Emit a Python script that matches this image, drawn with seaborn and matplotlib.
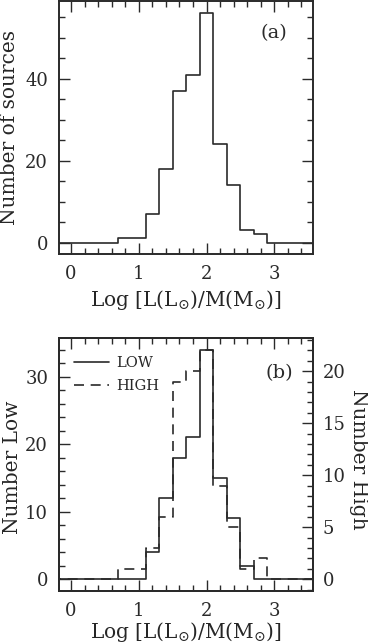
import matplotlib
matplotlib.use("Agg")
import matplotlib.pyplot as plt
import pandas as pd
import seaborn as sns
from matplotlib.ticker import MultipleLocator

# bin centres of Log [L/M], bins are 0.2 wide
bin_centers = [-0.2, 0.0, 0.2, 0.4, 0.6, 0.8, 1.0, 1.2, 1.4, 1.6,
               1.8, 2.0, 2.2, 2.4, 2.6, 2.8, 3.0, 3.2, 3.4, 3.6]
all_counts = [0, 0, 0, 0, 0, 1, 1, 7, 18, 37, 41, 56, 24, 14, 3, 2, 0, 0, 0, 0]
low_counts = [0, 0, 0, 0, 0, 0, 0, 4, 12, 18, 21, 34, 15, 9, 2, 0, 0, 0, 0, 0]
high_counts = [0, 0, 0, 0, 0, 1, 1, 3, 6, 19, 20, 22, 9, 5, 1, 2, 0, 0, 0, 0]
x_ticks = [0, 1, 2, 3]

INK = "#2a2a2a"
XLABEL = r"Log [L(L$_{\odot}$)/M(M$_{\odot}$)]"
LABEL_SIZE = 14.5

sns.set_style("ticks")
plt.rcParams["font.family"] = ["DejaVu Serif"]
plt.rcParams["mathtext.fontset"] = "dejavuserif"
plt.rcParams.update({
    "xtick.direction": "in", "ytick.direction": "in",
    "xtick.top": True, "ytick.right": True,
    "xtick.major.size": 8, "ytick.major.size": 8,
    "xtick.minor.size": 4, "ytick.minor.size": 4,
    "xtick.major.width": 1.0, "ytick.major.width": 1.0,
    "xtick.minor.width": 1.0, "ytick.minor.width": 1.0,
    "xtick.color": INK, "ytick.color": INK,
    "axes.edgecolor": INK, "axes.linewidth": 1.4,
    "font.size": 13,
})

df = pd.DataFrame({"center": bin_centers, "n_all": all_counts,
                   "n_low": low_counts, "n_high": high_counts})
edges = [round(c - 0.1, 2) for c in bin_centers] + [round(bin_centers[-1] + 0.1, 2)]

fig = plt.figure(figsize=(3.68, 6.44), dpi=100)
ax_a = fig.add_axes([0.161, 0.6056, 0.689, 0.3928])
ax_b = fig.add_axes([0.161, 0.0828, 0.689, 0.3919])


def style_x(ax, label_y):
    ax.set_xlim(-0.175, 3.57)
    ax.set_xticks(x_ticks)
    ax.xaxis.set_minor_locator(MultipleLocator(0.2))
    ax.tick_params(axis="x", which="both", pad=8, labelsize=13)
    ax.set_xlabel(XLABEL, fontsize=LABEL_SIZE)
    ax.xaxis.set_label_coords(0.5, label_y)


# panel (a)
sns.histplot(data=df, x="center", weights="n_all", bins=edges, element="step",
             fill=False, color=INK, linewidth=1.2, ax=ax_a)
style_x(ax_a, -0.135)
ax_a.set_ylim(-2.8, 59)
ax_a.yaxis.set_major_locator(MultipleLocator(20))
ax_a.yaxis.set_minor_locator(MultipleLocator(5))
ax_a.tick_params(axis="y", which="both", pad=8, labelsize=13)
ax_a.set_ylabel("Number of sources", fontsize=LABEL_SIZE)
ax_a.yaxis.set_label_coords(-0.16, 0.5)
ax_a.text(0.845, 0.873, "(a)", transform=ax_a.transAxes, fontsize=14,
          ha="center", va="center", color=INK)

# panel (b)
sns.histplot(data=df, x="center", weights="n_low", bins=edges, element="step",
             fill=False, color=INK, linewidth=1.2, ax=ax_b)
ax_h = ax_b.twinx()
sns.histplot(data=df, x="center", weights="n_high", bins=edges, element="step",
             fill=False, color=INK, linewidth=1.2, linestyle=(0, (6, 4)),
             ax=ax_h)
style_x(ax_b, -0.118)
ax_b.set_ylim(-1.7, 35.7)
ax_b.yaxis.set_major_locator(MultipleLocator(10))
ax_b.yaxis.set_minor_locator(MultipleLocator(2))
ax_b.tick_params(axis="y", which="both", pad=8, labelsize=13)
ax_b.set_ylabel("Number Low", fontsize=LABEL_SIZE)
ax_b.yaxis.set_label_coords(-0.148, 0.49)

ax_h.set_ylim(-1.1, 23.17)
ax_h.yaxis.set_major_locator(MultipleLocator(5))
ax_h.yaxis.set_minor_locator(MultipleLocator(1))
ax_h.tick_params(axis="y", which="both", pad=7, labelsize=13)
ax_h.set_ylabel("Number High", fontsize=LABEL_SIZE, rotation=270, va="bottom")
ax_h.yaxis.set_label_coords(1.143, 0.52)

ax_h.text(0.867, 0.861, "(b)", transform=ax_h.transAxes, fontsize=14,
          ha="center", va="center", color=INK)
ax_h.legend(handles=[ax_b.lines[0], ax_h.lines[0]], labels=["LOW", "HIGH"],
            loc="upper left", bbox_to_anchor=(0.058, 0.93), frameon=False,
            borderpad=0, borderaxespad=0, handlelength=2.4,
            handletextpad=0.5, labelspacing=0.6, fontsize=10.5)

fig.savefig("out.png", dpi=100)
